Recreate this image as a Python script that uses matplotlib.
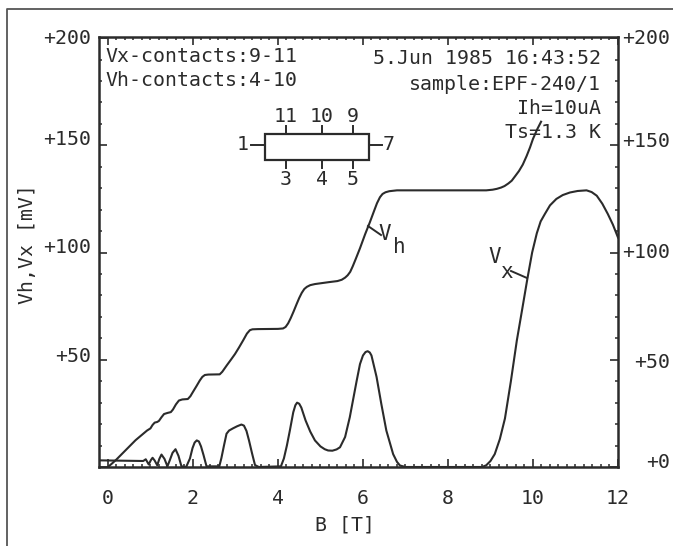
import matplotlib
matplotlib.use('Agg')
import matplotlib.pyplot as plt
from matplotlib.lines import Line2D
from matplotlib.patches import Rectangle

# values, B in tesla, V in mV
VH_B = [0.0, 0.1, 0.2, 0.35, 0.5, 0.65, 0.83, 0.92, 1.0, 1.05, 1.1, 1.16, 1.2, 1.26, 1.32, 1.4, 1.48, 1.53, 1.6,
        1.67, 1.75, 1.88, 1.94, 2.0, 2.08, 2.16, 2.22, 2.28, 2.36, 2.63, 2.69, 2.8, 2.9, 2.99, 3.08, 3.18, 3.27,
        3.34, 3.4, 3.53, 4.0, 4.12, 4.18, 4.24, 4.3, 4.37, 4.44, 4.5, 4.56, 4.62, 4.68, 4.76, 4.87, 5.2, 5.4, 5.5,
        5.58, 5.64, 5.7, 5.76, 5.83, 5.93, 6.05, 6.16, 6.25, 6.33, 6.4, 6.46, 6.53, 6.62, 6.8, 8.0, 8.9, 9.05,
        9.15, 9.25, 9.33, 9.42, 9.5, 9.58, 9.67, 9.76, 9.85, 9.93, 10.0, 10.1, 10.19]
VH_V = [0.0, 1.7, 3.5, 6.5, 9.5, 12.5, 15.5, 17.0, 18.0, 19.6, 20.7, 21.0, 21.5, 23.2, 24.7, 25.2, 25.6, 26.8, 29.2,
        31.0, 31.5, 31.7, 33.0, 35.0, 37.6, 40.3, 42.0, 42.9, 43.1, 43.2, 44.4, 47.5, 50.2, 52.7, 55.6, 59.0, 62.2,
        63.8, 64.2, 64.3, 64.4, 64.6, 65.3, 67.0, 69.4, 72.6, 76.0, 78.8, 81.2, 83.0, 84.0, 84.8, 85.3, 86.2, 86.7,
        87.3, 88.3, 89.4, 91.0, 93.6, 97.0, 102.0, 108.5, 114.0, 118.8, 123.0, 125.8, 127.3, 128.1, 128.6, 129.0,
        129.0, 129.0, 129.3, 129.7, 130.3, 131.0, 132.2, 133.5, 135.6, 138.0, 141.0, 145.0, 149.0, 153.0, 157.5,
        161.0]

VX_B = [-0.21, 0.83, 0.89, 0.96, 1.01, 1.05, 1.1, 1.16, 1.21, 1.26, 1.33, 1.4, 1.46, 1.52, 1.59, 1.66, 1.73, 1.84,
        1.93, 1.99, 2.04, 2.09, 2.14, 2.19, 2.25, 2.32, 2.62, 2.67, 2.73, 2.79, 2.85, 2.94, 3.04, 3.14, 3.2, 3.26,
        3.32, 3.39, 3.46, 3.55, 4.07, 4.14, 4.21, 4.28, 4.36, 4.41, 4.45, 4.5, 4.55, 4.65, 4.76, 4.87, 5.0, 5.1,
        5.18, 5.28, 5.38, 5.46, 5.58, 5.69, 5.85, 5.93, 6.0, 6.06, 6.11, 6.16, 6.2, 6.32, 6.43, 6.55, 6.71, 6.8,
        6.87, 7.0, 8.8, 8.9, 9.0, 9.1, 9.22, 9.34, 9.48, 9.62, 9.75, 9.87, 9.98, 10.09, 10.18, 10.28, 10.4, 10.55,
        10.7, 10.87, 11.05, 11.26, 11.38, 11.5, 11.63, 11.76, 11.88, 12.0]
VX_V = [3.1, 2.8, 3.6, 1.2, 3.2, 4.3, 3.0, 0.8, 3.8, 5.8, 3.8, 0.3, 3.4, 6.6, 8.3, 5.2, 0.3, 0.0,
        4.0, 8.8, 11.4, 12.4, 11.9, 9.6, 5.5, 0.3, 0.3, 4.2, 10.0, 15.5, 17.0, 18.0, 19.0, 19.8, 19.3, 16.8,
        12.3, 6.4, 0.9, 0.0, 0.3, 4.0, 10.0, 17.0, 25.5, 28.8, 30.0, 29.5, 27.7, 21.7, 16.5, 12.4, 9.6, 8.3,
        7.7, 7.6, 8.2, 9.2, 14.0, 23.2, 40.0, 48.0, 52.0, 53.6, 54.0, 53.4, 52.0, 42.0, 29.6, 17.0, 6.0, 2.4,
        0.7, 0.0, 0.0, 0.8, 2.8, 6.0, 13.0, 22.6, 40.0, 59.0, 74.0, 88.0, 100.0, 109.0, 114.5, 118.0, 122.0, 125.0,
        126.8, 128.0, 128.7, 129.0, 128.2, 126.5, 122.8, 118.0, 113.0, 107.0]

X_TICKS = [0, 2, 4, 6, 8, 10, 12]
X_MINOR = [i * 0.2 for i in range(0, 61)]
Y_TICKS = [0, 50, 100, 150, 200]
Y_MINOR = list(range(0, 201, 10))
LEFT_LABELS = ['', '+50', '+100', '+150', '+200']
RIGHT_LABELS = ['+0', '+50', '+100', '+150', '+200']
# the plotter put its labels a little off the ticks, in points
LEFT_SHIFT = [0, 2, 3.6, 4.3, 0]
RIGHT_SHIFT = [3.6, -2, 0, 3, 0]

INK = '#2b2b2b'
W, H = 673, 546
plt.rcParams['font.family'] = ['DejaVu Sans Mono']
plt.rcParams['font.size'] = 14.3


def fx(px):
    return px / W


def fy(py):
    return 1 - py / H


fig = plt.figure(figsize=(W / 100, H / 100), dpi=100)
ax = fig.add_axes([fx(99), fy(467), fx(618) - fx(99), fy(37) - fy(467)])


def put(px, py, s, ha='center', size=14.3):
    fig.text(fx(px), fy(py), s, ha=ha, va='center', color=INK, size=size)


def stroke(x0, y0, x1, y1, lw=1.4):
    fig.add_artist(Line2D([fx(x0), fx(x1)], [fy(y0), fy(y1)], color=INK, lw=lw))


ax.plot(VH_B, VH_V, color=INK, lw=1.5, solid_joinstyle='round')
ax.plot(VX_B, VX_V, color=INK, lw=1.5, solid_joinstyle='round')

ax.set_xlim(-0.21, 12.0)
ax.set_ylim(0, 200.5)
ax.set_xticks(X_TICKS)
ax.set_xticks(X_MINOR, minor=True)
ax.set_yticks(Y_TICKS)
ax.set_yticks(Y_MINOR, minor=True)
ax.set_yticklabels([])

ax.tick_params(which='major', direction='in', length=5.5, width=1.2, color=INK, top=True, right=True,
               labelcolor=INK)
ax.tick_params(which='minor', direction='in', length=2.2, width=1.1, color=INK, top=True, right=True)
ax.tick_params(axis='x', which='major', pad=16)
for s in ax.spines.values():
    s.set_linewidth(1.8)
    s.set_color(INK)

# both y scales, the right one is right aligned at the picture edge
for v, s, up in zip(Y_TICKS, LEFT_LABELS, LEFT_SHIFT):
    ax.annotate(s, (0, v), xycoords=('axes fraction', 'data'), xytext=(-6, up), textcoords='offset points',
                ha='right', va='center', color=INK)
for v, s, up in zip(Y_TICKS, RIGHT_LABELS, RIGHT_SHIFT):
    ax.annotate(s, (1, v), xycoords=('axes fraction', 'data'), xytext=(37.5, up), textcoords='offset points',
                ha='right', va='center', color=INK)

fig.text(fx(345), fy(525), 'B [T]', ha='center', va='center', color=INK)
fig.text(fx(28), fy(244), 'Vh,Vx [mV]', ha='center', va='center', rotation=90, color=INK)

# header text
put(105, 56, 'Vx-contacts:9-11', ha='left')
put(105, 81, 'Vh-contacts:4-10', ha='left')
put(601, 58, '5.Jun 1985 16:43:52', ha='right')
put(601, 85, 'sample:EPF-240/1', ha='right')
put(601, 108, 'Ih=10uA', ha='right')
put(601, 133, 'Ts=1.3 K', ha='right')

# contact sketch
fig.add_artist(Rectangle((fx(265), fy(160)), fx(369) - fx(265), fy(134) - fy(160), fill=False, ec=INK, lw=1.6,
                         transform=fig.transFigure))
stroke(251, 145, 265, 145)
stroke(369, 145, 382, 145)
for px, top, bottom in [(286, '11', '3'), (322, '10', '4'), (353, '9', '5')]:
    stroke(px, 126, px, 134)
    stroke(px, 160, px, 168)
    put(px, 116, top)
    put(px, 180, bottom)
put(243, 145, '1')
put(389, 145, '7')

# curve names with their leaders
stroke(368, 226, 381, 235)
put(385, 234, 'V', size=15)
put(399, 247, 'h', size=15)
stroke(511, 271, 527, 278)
put(495, 257, 'V', size=15)
put(507, 272, 'x', size=15)

# frame of the printed page
fig.add_artist(Line2D([fx(7), fx(7), fx(673)], [fy(546), fy(9), fy(9)], color='#555555', lw=1.3))

fig.savefig('out.png', dpi=100)
